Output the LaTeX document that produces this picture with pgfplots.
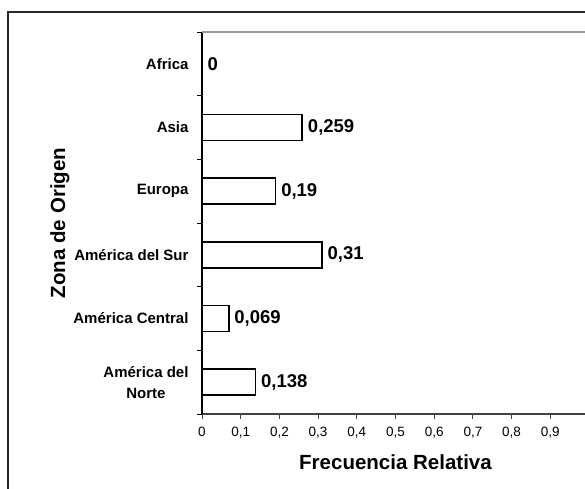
\documentclass[border=0pt]{standalone}
\usepackage{fontspec}
\setmainfont{Liberation Sans}
\usepackage{pgfplots}
\pgfplotsset{compat=1.18}
\definecolor{axgray}{HTML}{404040}
\definecolor{topgray}{HTML}{9A9A9A}
\begin{document}
\begin{tikzpicture}[x=1pt,y=1pt]
\path[use as bounding box] (0,0) rectangle (585,488);
\clip (0,0) rectangle (585,488);
\draw[line width=1.5pt, black!85] (8,476) rectangle (640,-40);
\node[font=\bfseries\fontsize{19.5}{23}\selectfont, anchor=base west, inner sep=0pt] at (123,494.5) {Diagrama de barras de la Zona de Origen};
\begin{axis}[
  at={(202pt,74pt)}, anchor=south west,
  scale only axis, width=387pt, height=382pt,
  xmin=0, xmax=1, ymin=0, ymax=6,
  enlargelimits=false,
  axis x line*=bottom, axis y line*=left,
  axis line style={-},
  x axis line style={draw=axgray, line width=1.6pt},
  y axis line style={draw=black, line width=1.3pt},
  tick align=outside,
  major tick length=5pt, minor tick length=5pt,
  xtick={0,0.1,0.2,0.3,0.4,0.5,0.6,0.7,0.8,0.9},
  x tick style={draw=axgray, line width=1pt},
  /pgf/number format/.cd, use comma, fixed, precision=1, assume math mode=true, /pgfplots/.cd,
  xticklabel style={font=\fontsize{13.5}{15}\selectfont, yshift=-5pt},
  ytick={0.5,1.5,2.5,3.5,4.5,5.5},
  yticklabels={América del\\Norte, América Central, América del Sur, Europa, Asia, Africa},
  y tick style={draw=none},
  minor ytick={0,1,2,3,4,5,6},
  minor y tick style={draw=black, line width=1pt},
  yticklabel style={font=\bfseries\fontsize{15}{21}\selectfont, align=center, xshift=-5pt},
  xlabel={Frecuencia Relativa},
  ylabel={Zona de Origen},
  xlabel style={font=\bfseries\fontsize{20.5}{24}\selectfont, at={(axis description cs:0.5,-0.1257)}, anchor=center},
  ylabel style={font=\bfseries\fontsize{20.5}{24}\selectfont, at={(axis description cs:-0.367,0.5)}, anchor=center},
  xbar, bar width=26pt,
  nodes near coords,
  point meta=explicit symbolic,
  nodes near coords style={font=\bfseries\fontsize{18.5}{21}\selectfont, anchor=west, xshift=1.5pt},
  after end axis/.code={
    \draw[topgray, line width=2pt] (rel axis cs:0,1) -- (rel axis cs:1,1);
    \draw[topgray, line width=2pt] (rel axis cs:1,0) -- (rel axis cs:1,1);
  },
]
\addplot[fill=white, draw=black, line width=1.8pt] coordinates {
  (0.138,0.5) [0,138]
  (0.069,1.5) [0,069]
  (0.31,2.5) [0,31]
  (0.19,3.5) [0,19]
  (0.259,4.5) [0,259]
  (0,5.5) [0]
};
\end{axis}
\end{tikzpicture}
\end{document}
